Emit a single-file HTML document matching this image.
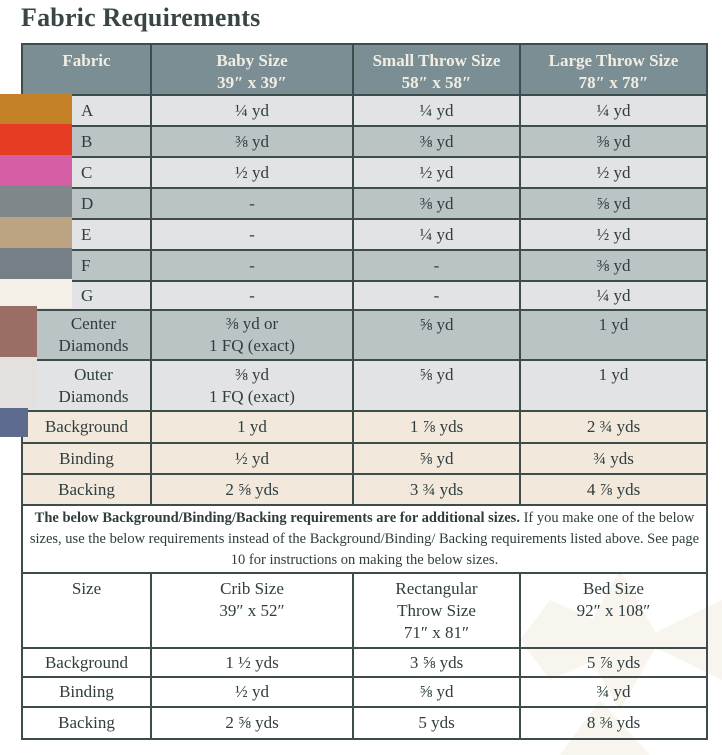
<!DOCTYPE html>
<html><head><meta charset="utf-8"><style>
body{margin:0;background:#fff;width:722px;height:755px;position:relative;overflow:hidden;font-family:"Liberation Serif",serif;color:#2f3d3e}
h1{position:absolute;left:21px;top:3px;margin:0;font-size:26px;font-weight:bold;color:#3a4646;letter-spacing:0.2px}
table{position:absolute;left:21px;top:43px;border-collapse:collapse;table-layout:fixed;width:685px}
td{border:2px solid #3f4c4c;text-align:center;font-size:17px;padding:0;line-height:22px;overflow:hidden}
.h td{background:#7b8e93;color:#f1ede3;font-weight:bold;vertical-align:top;padding-top:5px}
.l td{background:#e2e3e5}.d td{background:#bac4c5}
.l td:first-child,.d td:first-child{text-align:left;padding-left:58px}
.t td{background:#f2e8dc}
.w td{background:transparent}
.n td{font-size:14.5px;line-height:21px;background:transparent;padding:0 4px}
.sh td{vertical-align:top;padding-top:4px;background:transparent}
.sw{position:absolute}
</style></head><body>
<svg style="position:absolute;left:520px;top:560px" width="202" height="195"><g fill="#efe6d6" opacity="0.4"><polygon points="100,10 140,80 100,150 60,80"/><polygon points="30,40 120,80 30,120 0,80"/><polygon points="202,40 120,80 202,120"/><polygon points="80,140 130,195 40,195"/></g></svg>
<h1>Fabric Requirements</h1>
<table>
<colgroup><col style="width:129px"><col style="width:202px"><col style="width:167px"><col style="width:187px"></colgroup>
<tr class="h" style="height:50px"><td>Fabric</td><td>Baby Size<br>39″ x 39″</td><td>Small Throw Size<br>58″ x 58″</td><td>Large Throw Size<br>78″ x 78″</td></tr>
<tr class="l" style="height:31px"><td>A</td><td>¼ yd</td><td>¼ yd</td><td>¼ yd</td></tr>
<tr class="d" style="height:31px"><td>B</td><td>⅜ yd</td><td>⅜ yd</td><td>⅜ yd</td></tr>
<tr class="l" style="height:31px"><td>C</td><td>½ yd</td><td>½ yd</td><td>½ yd</td></tr>
<tr class="d" style="height:31px"><td>D</td><td>-</td><td>⅜ yd</td><td>⅝ yd</td></tr>
<tr class="l" style="height:31px"><td>E</td><td>-</td><td>¼ yd</td><td>½ yd</td></tr>
<tr class="d" style="height:31px"><td>F</td><td>-</td><td>-</td><td>⅜ yd</td></tr>
<tr class="l" style="height:29px"><td>G</td><td>-</td><td>-</td><td>¼ yd</td></tr>
<tr class="d" style="height:50px"><td style="text-align:center;padding-left:14px">Center<br>Diamonds</td><td>⅜ yd or<br>1 FQ (exact)</td><td style="vertical-align:top;padding-top:3px">⅝ yd</td><td style="vertical-align:top;padding-top:3px">1 yd</td></tr>
<tr class="l" style="height:51px"><td style="text-align:center;padding-left:14px">Outer<br>Diamonds</td><td>⅜ yd<br>1 FQ (exact)</td><td style="vertical-align:top;padding-top:3px">⅝ yd</td><td style="vertical-align:top;padding-top:3px">1 yd</td></tr>
<tr class="t" style="height:32px"><td>Background</td><td>1 yd</td><td>1 ⅞ yds</td><td>2 ¾ yds</td></tr>
<tr class="t" style="height:31px"><td>Binding</td><td>½ yd</td><td>⅝ yd</td><td>¾ yds</td></tr>
<tr class="t" style="height:31px"><td>Backing</td><td>2 ⅝ yds</td><td>3 ¾ yds</td><td>4 ⅞ yds</td></tr>
<tr class="n" style="height:68px"><td colspan="4"><b>The below Background/Binding/Backing requirements are for additional sizes.</b> If you make one of the below sizes, use the below requirements instead of the Background/Binding/ Backing requirements listed above. See page 10 for instructions on making the below sizes.</td></tr>
<tr class="sh" style="height:75px"><td>Size</td><td>Crib Size<br>39″ x 52″</td><td>Rectangular<br>Throw Size<br>71″ x 81″</td><td>Bed Size<br>92″ x 108″</td></tr>
<tr class="w" style="height:29px"><td>Background</td><td>1 ½ yds</td><td>3 ⅝ yds</td><td>5 ⅞ yds</td></tr>
<tr class="w" style="height:30px"><td>Binding</td><td>½ yd</td><td>⅝ yd</td><td>¾ yd</td></tr>
<tr class="w" style="height:32px"><td>Backing</td><td>2 ⅝ yds</td><td>5 yds</td><td>8 ⅜ yds</td></tr>
</table>
<div class="sw" style="left:0;top:94px;width:72px;height:30px;background:#c58128"></div>
<div class="sw" style="left:0;top:124px;width:72px;height:31px;background:#e53c23"></div>
<div class="sw" style="left:0;top:155px;width:72px;height:30px;background:#d65ea5"></div>
<div class="sw" style="left:0;top:185px;width:72px;height:32px;background:#80878a"></div>
<div class="sw" style="left:0;top:217px;width:72px;height:31px;background:#bca483"></div>
<div class="sw" style="left:0;top:248px;width:72px;height:31px;background:#767e86"></div>
<div class="sw" style="left:0;top:279px;width:72px;height:29px;background:#f4efe7"></div>
<div class="sw" style="left:0;top:306px;width:37px;height:51px;background:#9a6e64"></div>
<div class="sw" style="left:0;top:357px;width:37px;height:51px;background:#e3e0df"></div>
<div class="sw" style="left:0;top:408px;width:28px;height:29px;background:#5d6b8f"></div>
</body></html>
